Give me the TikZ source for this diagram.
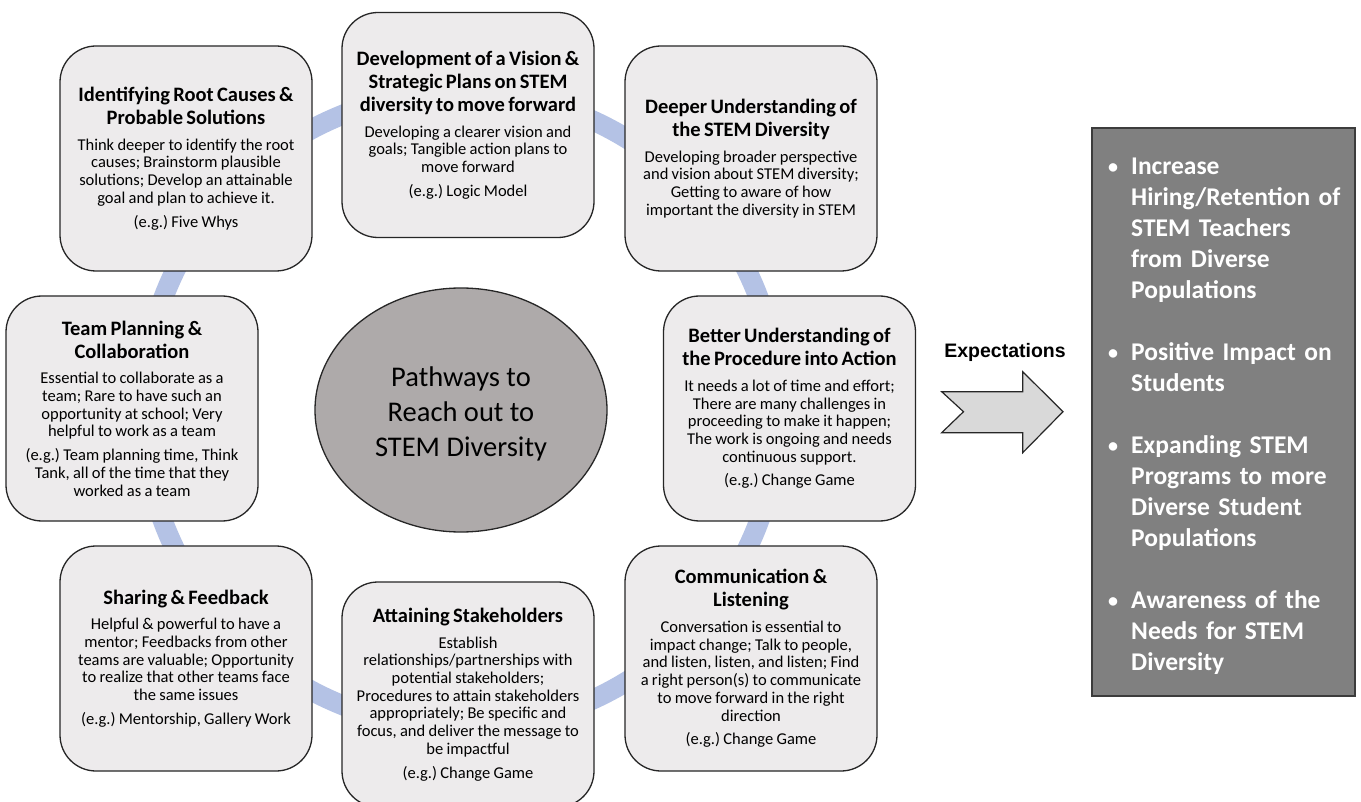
\documentclass[tikz,border=0pt]{standalone}
\usepackage{fontspec}
\setmainfont{Carlito}
\newfontfamily\arialfont{Liberation Sans}
\usetikzlibrary{shapes.geometric}
\frenchspacing

\definecolor{ringblue}{HTML}{B4C2E5}
\definecolor{cardfill}{HTML}{EDEBEC}
\definecolor{hubfill}{HTML}{AEAAAA}
\definecolor{expfill}{HTML}{808080}
\definecolor{arrowfill}{HTML}{D9D9D9}
\definecolor{edge}{HTML}{262626}

\pgfdeclarelayer{background}
\pgfsetlayers{background,main}

% text parts of a card: title, description, example
\newcommand\cardtitle[1]{{\fontsize{20.5}{23}\selectfont\bfseries #1\par}}
\newcommand\carddesc[1]{\vspace{8pt}{\fontsize{16.5}{17.7}\selectfont #1\par}}
\newcommand\cardeg[1]{\vspace{6pt}{\fontsize{16.5}{17.7}\selectfont #1\par}}
% one bullet of the expectation list (lines separated by \newline)
\newcommand\expitem[1]{\hangindent=23pt\hangafter=1\noindent
  \makebox[23pt][l]{\raisebox{1pt}{\fontsize{20}{20}\selectfont\textbullet}}#1\par}

\tikzset{
  card/.style={draw=edge, line width=1.3pt, fill=cardfill, rounded corners=36pt,
    minimum width=252pt, minimum height=225pt, text width=250pt, align=center,
    inner sep=0pt},
  hub/.style={ellipse, draw=edge, line width=1.3pt, fill=hubfill,
    minimum width=292pt, minimum height=244pt, inner sep=0pt, align=center,
    font=\fontsize{28.5}{35}\selectfont},
  ring/.style={draw=ringblue, line width=20pt},
  expbox/.style={draw=edge!90, line width=1.5pt, fill=expfill,
    minimum width=263pt, minimum height=568pt, inner sep=0pt},
  explist/.style={text=white, text width=238pt, inner sep=0pt,
    font=\fontsize{25.5}{31}\selectfont\bfseries},
  bigarrow/.style={draw=edge, line width=1.2pt, fill=arrowfill, line join=miter},
}

\begin{document}
\begin{tikzpicture}[x=1pt, y=-1pt]
\useasboundingbox (0,0) rectangle (1361,802);

% central topic, with the ring that links the cards behind everything
\node[hub] (hub) at (461,410) {\rule{0pt}{27pt}Pathways to\\Reach out to\\STEM Diversity};
\begin{pgfonlayer}{background}
  \fill[white] (0,0) rectangle (1361,802);
  \draw[ring] (hub.center) circle[radius=318];
\end{pgfonlayer}

% the eight pathway cards
\node[card] (roots) at (186,158.5) {%
  \cardtitle{Identifying Root Causes \&\\Probable Solutions}%
  \carddesc{Think deeper to identify the root\\causes; Brainstorm plausible\\solutions; Develop an attainable\\goal and plan to achieve it.}%
  \cardeg{(e.g.) Five Whys}};

\node[card] (vision) at (468,125) {%
  \cardtitle{Development of a Vision \&\\Strategic Plans on STEM\\diversity to move forward}%
  \carddesc{Developing a clearer vision and\\goals; Tangible action plans to\\move forward}%
  \cardeg{(e.g.) Logic Model}};

\node[card] (deeper) at (751,158.5) {%
  \cardtitle{Deeper Understanding of\\the STEM Diversity}%
  \carddesc{Developing broader perspective\\and vision about STEM diversity;\\Getting to aware of how\\important the diversity in STEM}};

\node[card] (team) at (132,408.5) {%
  \cardtitle{Team Planning \&\\Collaboration}%
  \carddesc{Essential to collaborate as a\\team; Rare to have such an\\opportunity at school; Very\\helpful to work as a team}%
  \cardeg{(e.g.) Team planning time, Think\\Tank, all of the time that they\\worked as a team}};

\node[card] (action) at (789.5,408.5) {%
  \cardtitle{Better Understanding of\\the Procedure into Action}%
  \carddesc{It needs a lot of time and effort;\\There are many challenges in\\proceeding to make it happen;\\The work is ongoing and needs\\continuous support.}%
  \cardeg{(e.g.) Change Game}};

\node[card] (sharing) at (186,658.5) {%
  \cardtitle{Sharing \& Feedback}%
  \carddesc{Helpful \& powerful to have a\\mentor; Feedbacks from other\\teams are valuable; Opportunity\\to realize that other teams face\\the same issues}%
  \cardeg{(e.g.) Mentorship, Gallery Work}};

\node[card] (stake) at (468,694.5) {%
  \cardtitle{Attaining Stakeholders}%
  \carddesc{Establish\\relationships/partnerships with\\potential stakeholders;\\Procedures to attain stakeholders\\appropriately; Be specific and\\focus, and deliver the message to\\be impactful}%
  \cardeg{(e.g.) Change Game}};

\node[card] (listen) at (751,658.5) {%
  \cardtitle{Communication \&\\Listening}%
  \carddesc{Conversation is essential to\\impact change; Talk to people,\\and listen, listen, and listen; Find\\a right person(s) to communicate\\to move forward in the right\\direction}%
  \cardeg{(e.g.) Change Game}};

% arrow towards the expected outcomes
\coordinate (a1) at (941.7,391.7);
\coordinate (a2) at (1022.7,391.7);
\coordinate (a3) at (1022.7,371.7);
\coordinate (tip) at (1063,411.7);
\coordinate (a5) at (1022.7,452.7);
\coordinate (a6) at (1022.7,432.7);
\coordinate (a7) at (941.7,432.7);
\coordinate (notch) at (963.5,411.7);
\draw[bigarrow] (a1) -- (a2) -- (a3) -- (tip) -- (a5) -- (a6) -- (a7) -- (notch) -- cycle;
\node[font=\arialfont\bfseries\fontsize{19.5}{22}\selectfont] (explabel) at (1005,352) {Expectations};

% expected outcomes
\node[expbox] (exp) at (1223.5,412) {};
\node[explist, anchor=north west] (outcomes) at (1108,158) {%
  \raggedright
  \expitem{Increase\newline Hiring/Retention of\newline STEM Teachers\newline from Diverse\newline Populations}%
  \vspace{31pt}%
  \expitem{Positive Impact on\newline Students}%
  \vspace{31pt}%
  \expitem{Expanding STEM\newline Programs to more\newline Diverse Student\newline Populations}%
  \vspace{31pt}%
  \expitem{Awareness of the\newline Needs for STEM\newline Diversity}};
\end{tikzpicture}
\end{document}
